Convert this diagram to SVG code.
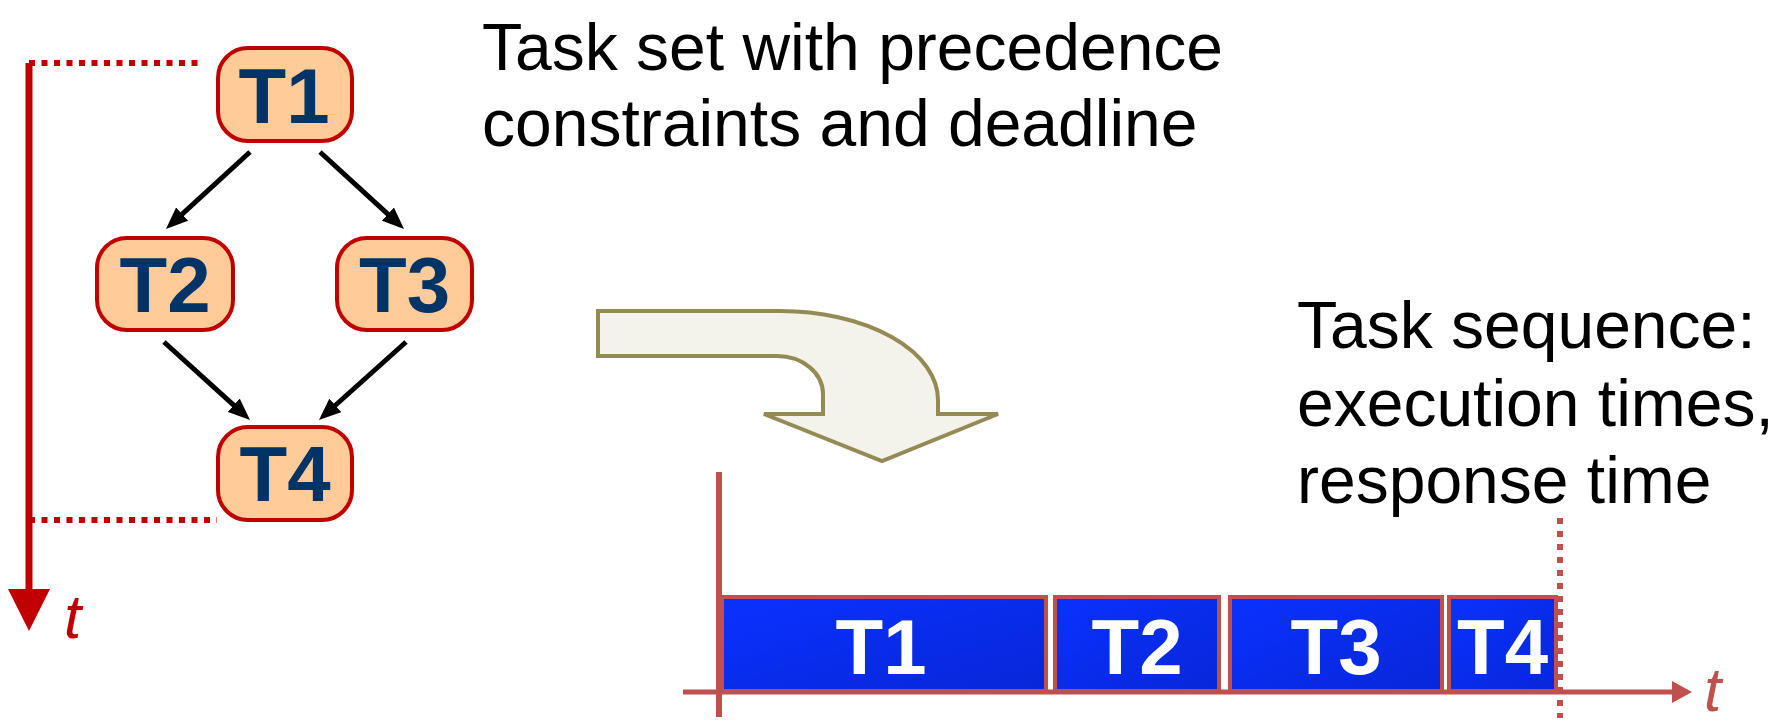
<svg xmlns="http://www.w3.org/2000/svg" width="1786" height="723" viewBox="0 0 1786 723">
  <style>
    .node rect { fill: #FFCC99; stroke: #C00000; stroke-width: 4; }
    .node text { font-family: "Liberation Sans", Arial, sans-serif; font-weight: bold; font-size: 78px; fill: #003366; text-anchor: middle; }
    .edge { stroke: #000; stroke-width: 5; fill: none; marker-end: url(#arrowBlack); }
    .caption { font-family: "Liberation Sans", Arial, sans-serif; font-size: 66px; fill: #000; }
    .slot rect { fill: url(#blueFill); stroke: #C0504D; stroke-width: 4; }
    .slot text { font-family: "Liberation Sans", Arial, sans-serif; font-weight: bold; font-size: 78px; fill: #fff; text-anchor: middle; }
    .tlabel { font-family: "Liberation Sans", Arial, sans-serif; font-style: italic; font-size: 62px; }
  </style>
  <defs>
    <marker id="arrowBlack" viewBox="0 0 22 18" markerWidth="22" markerHeight="18" refX="10" refY="9" orient="auto" markerUnits="userSpaceOnUse">
      <path d="M0,0 L22,9 L0,18 z" fill="#000"/>
    </marker>
    <linearGradient id="blueFill" x1="0" y1="0" x2="1" y2="1">
      <stop offset="0" stop-color="#0B31FF"/>
      <stop offset="1" stop-color="#0727D8"/>
    </linearGradient>
  </defs>

  <!-- vertical time axis of the task graph -->
  <g id="graph-time-axis">
    <line x1="29" y1="63" x2="29" y2="592" stroke="#C00000" stroke-width="7"/>
    <polygon points="8,589 50,589 29,631" fill="#C00000"/>
    <line x1="29" y1="63" x2="198" y2="63" stroke="#C00000" stroke-width="6" stroke-dasharray="6 6.5"/>
    <line x1="29" y1="520" x2="217" y2="520" stroke="#C00000" stroke-width="6" stroke-dasharray="6 6.5"/>
    <text class="tlabel" x="64" y="638" fill="#C00000">t</text>
  </g>

  <!-- precedence edges -->
  <g id="connectors">
    <line class="edge" x1="250" y1="152" x2="174.8" y2="220.9"/>
    <line class="edge" x1="320" y1="152" x2="395.2" y2="220.9"/>
    <line class="edge" x1="164" y1="342" x2="241.1" y2="411.9"/>
    <line class="edge" x1="406" y1="342" x2="327.9" y2="412"/>
  </g>

  <!-- task nodes -->
  <g id="node-T1" class="node">
    <rect x="218" y="48" width="134" height="93" rx="30"/>
    <text x="284" y="123">T1</text>
  </g>
  <g id="node-T2" class="node">
    <rect x="97" y="238" width="136" height="92" rx="30"/>
    <text x="165" y="312">T2</text>
  </g>
  <g id="node-T3" class="node">
    <rect x="337" y="238" width="135" height="92" rx="30"/>
    <text x="404.5" y="312">T3</text>
  </g>
  <g id="node-T4" class="node">
    <rect x="218" y="427" width="134" height="93" rx="30"/>
    <text x="285" y="501">T4</text>
  </g>

  <!-- captions -->
  <g id="caption-taskset">
    <text class="caption" x="482" y="70">Task set with precedence</text>
    <text class="caption" x="482" y="146">constraints and deadline</text>
  </g>
  <g id="caption-sequence">
    <text class="caption" x="1297" y="348">Task sequence:</text>
    <text class="caption" x="1297" y="426">execution times,</text>
    <text class="caption" x="1297" y="503">response time</text>
  </g>

  <!-- bent transition arrow -->
  <g id="transition-arrow">
    <path d="M598,311 H780 A158,89 0 0 1 938,400 V414 H998 L882,461 L764,414 H823 V394 A46,38 0 0 0 777,356 H598 Z" fill="#F3F3EC" stroke="#948A54" stroke-width="4" stroke-linejoin="miter"/>
  </g>

  <!-- schedule chart -->
  <g id="schedule">
    <g id="slot-T1" class="slot">
      <rect x="722" y="597" width="324" height="94"/>
      <text x="881" y="674">T1</text>
    </g>
    <g id="slot-T2" class="slot">
      <rect x="1055" y="597" width="164" height="94"/>
      <text x="1137" y="674">T2</text>
    </g>
    <g id="slot-T3" class="slot">
      <rect x="1230" y="597" width="212" height="94"/>
      <text x="1336" y="674">T3</text>
    </g>
    <g id="slot-T4" class="slot">
      <rect x="1449" y="597" width="107" height="94"/>
      <text x="1502.5" y="674">T4</text>
    </g>
    <line x1="719" y1="472" x2="719" y2="717" stroke="#C0504D" stroke-width="6"/>
    <line x1="683" y1="692" x2="1676" y2="692" stroke="#C0504D" stroke-width="5"/>
    <polygon points="1672,681 1692,692 1672,703" fill="#C0504D"/>
    <line x1="1560" y1="518" x2="1560" y2="718" stroke="#C0504D" stroke-width="6" stroke-dasharray="6 7"/>
    <text class="tlabel" x="1704" y="711" fill="#C0504D">t</text>
  </g>
</svg>
